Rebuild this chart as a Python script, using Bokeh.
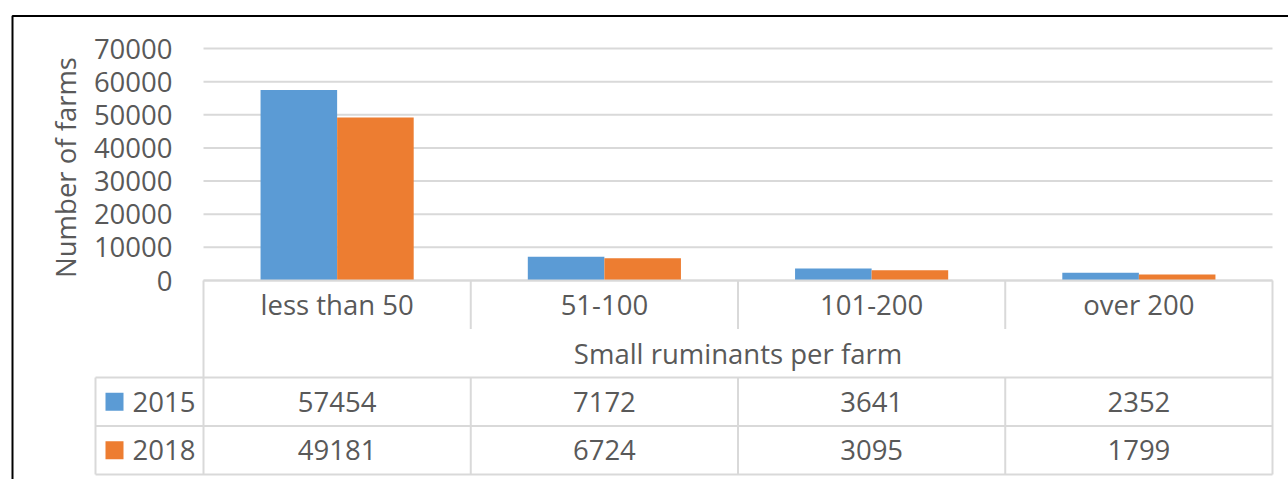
import numpy as np
from bokeh.plotting import figure
from bokeh.models import Range1d, BoxAnnotation
from bokeh.core.properties import value
from bokeh.embed import file_html
from bokeh.resources import INLINE

# ---- data -------------------------------------------------------------
categories = ["less than 50", "51-100", "101-200", "over 200"]
years = ["2015", "2018"]
farms_2015 = [57454, 7172, 3641, 2352]
farms_2018 = [49181, 6724, 3095, 1799]
y_ticks = [0, 10000, 20000, 30000, 40000, 50000, 60000, 70000]
y_title = "Number of farms"
x_title = "Small ruminants per farm"

# ---- layout (pixels) --------------------------------------------------
W, H = 1288, 479
PLOT_L, PLOT_R = 203, 1272      # plot area / table value columns
PLOT_T, PLOT_B = 48, 280        # rows of the top tick and of zero
TABLE_L = 95                    # left edge of the series-name column
ROW_PX = 48.5                   # height of one data-table row
SWATCH_CX = 114                 # centre of the legend swatches
SWATCH = 18
NAME_PAD = 37                   # series name offset from TABLE_L

FONT = value("Open Sans")
FSIZE = "27.5px"
TXT = "#595959"
GRID = "#D9D9D9"
COLORS = ["#5B9BD5", "#ED7D31"]

n = len(categories)
cat_px = (PLOT_R - PLOT_L) / n
x_start = -PLOT_L / cat_px
x_end = n + (W - PLOT_R) / cat_px
ymax = y_ticks[-1]
per_px = ymax / (PLOT_B - PLOT_T)

p = figure(width=W, height=H,
           x_range=Range1d(x_start, x_end),
           y_range=Range1d(-(H - PLOT_B) * per_px, ymax + PLOT_T * per_px),
           x_axis_type=None, y_axis_type=None,
           toolbar_location=None, output_backend="svg", min_border=0)
p.outline_line_color = None
p.background_fill_color = "white"
p.border_fill_color = "white"
# data-table rows: 0 at the top of the table, growing downward
p.extra_y_ranges = {"table": Range1d(start=(H - PLOT_B) / ROW_PX,
                                     end=-PLOT_B / ROW_PX)}

# ---- horizontal gridlines ---------------------------------------------
p.segment(x0=[0] * len(y_ticks), x1=[n] * len(y_ticks), y0=y_ticks, y1=y_ticks,
          line_color=GRID, line_width=2)

# ---- clustered bars -----------------------------------------------------
centers = np.arange(n) + 0.5
bar_w = 0.2865
for series, off, col in zip([farms_2015, farms_2018], [-bar_w / 2, bar_w / 2], COLORS):
    p.vbar(x=centers + off, width=bar_w, bottom=0, top=series,
           fill_color=col, line_color=None)

# ---- y tick labels and axis title ---------------------------------------
p.text(x=[0] * len(y_ticks), y=y_ticks, text=[str(t) for t in y_ticks],
       x_offset=-31, text_align="right", text_baseline="middle",
       text_font=FONT, text_font_size=FSIZE, text_color=TXT)
p.text(x=[0], y=[ymax / 2], text=[y_title], angle=np.pi / 2,
       x_offset=-138, y_offset=3, text_align="center", text_baseline="middle",
       text_font=FONT, text_font_size=FSIZE, text_color=TXT)

# ---- data table -------------------------------------------------------
tl = (TABLE_L - PLOT_L) / cat_px
hx0 = [0, tl, tl, tl]
hx1 = [n, n, n, n]
hy = [0, 2, 3, 4]
vx = [0, n, tl] + list(range(1, n)) * 2
vy0 = [0, 0, 2] + [0] * (n - 1) + [2] * (n - 1)
vy1 = [4, 4, 4] + [1] * (n - 1) + [4] * (n - 1)
p.segment(x0=hx0, x1=hx1, y0=hy, y1=hy, line_color=GRID, line_width=2,
          y_range_name="table")
p.segment(x0=vx, x1=vx, y0=vy0, y1=vy1, line_color=GRID, line_width=2,
          y_range_name="table")

p.text(x=centers, y=[0.5] * n, text=categories, text_align="center",
       text_baseline="middle", text_font=FONT, text_font_size=FSIZE,
       text_color=TXT, y_range_name="table")
p.text(x=[n / 2], y=[1.5], text=[x_title], text_align="center",
       text_baseline="middle", text_font=FONT, text_font_size=FSIZE,
       text_color=TXT, y_range_name="table")

swatch_x = (SWATCH_CX - PLOT_L) / cat_px
for row, (yr, series, col) in enumerate(zip(years, [farms_2015, farms_2018], COLORS)):
    yrow = 2.5 + row
    p.rect(x=[swatch_x], y=[yrow], width=SWATCH, height=SWATCH,
           width_units="screen", height_units="screen",
           fill_color=col, line_color=None, y_range_name="table")
    p.text(x=[tl], y=[yrow], text=[yr], x_offset=NAME_PAD, text_align="left",
           text_baseline="middle", text_font=FONT, text_font_size=FSIZE,
           text_color=TXT, y_range_name="table")
    p.text(x=centers, y=[yrow] * n, text=[str(v) for v in series],
           text_align="center", text_baseline="middle", text_font=FONT,
           text_font_size=FSIZE, text_color=TXT, y_range_name="table")

# ---- chart frame border (screen y counts up from the bottom) ------------
p.add_layout(BoxAnnotation(left=12, right=W + 40, top=H - 15.5, bottom=-40,
                           left_units="screen", right_units="screen",
                           top_units="screen", bottom_units="screen",
                           fill_alpha=0, line_color="black", line_alpha=1,
                           line_width=2))

open("out.html", "w").write(file_html(p, INLINE))
